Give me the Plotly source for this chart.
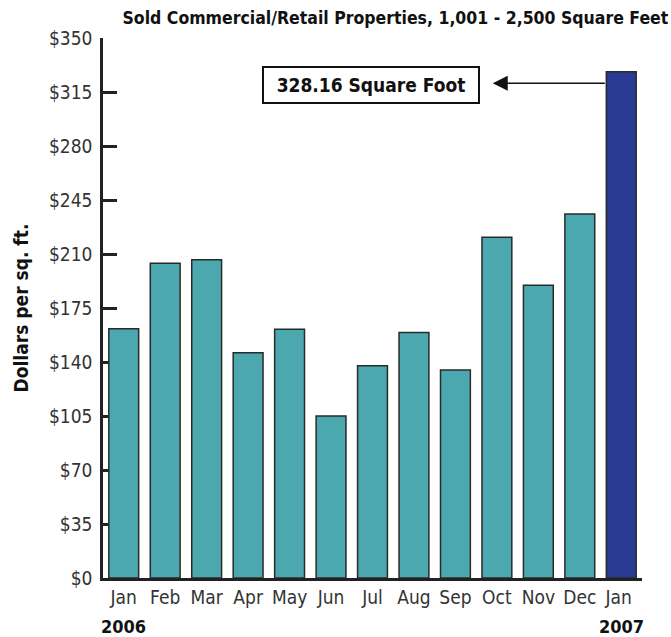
import plotly.graph_objects as go

months = ["Jan", "Feb", "Mar", "Apr", "May", "Jun", "Jul", "Aug", "Sep", "Oct", "Nov", "Dec", "Jan "]
values = [161.6, 204.0, 206.3, 146.0, 161.2, 105.0, 137.6, 159.2, 134.8, 220.8, 189.7, 235.9, 328.16]
bar_colors = ["#4BA8AE"] * 12 + ["#283A91"]
tick_vals = [0, 35, 70, 105, 140, 175, 210, 245, 280, 315, 350]
tick_text = ["$" + str(v) for v in tick_vals]
year_labels = {0: "2006", 12: "2007"}
callout_text = "328.16 Square Foot"

FONT = "DejaVu Sans Condensed, Liberation Sans Narrow, sans-serif"
bargap = 0.28

fig = go.Figure()
fig.add_trace(go.Bar(
    x=list(range(len(months))), y=values,
    marker=dict(color=bar_colors, line=dict(color="#2a2a2a", width=1.5)),
    width=1 - bargap,
    hoverinfo="skip",
))

annotations = []
for idx, label in year_labels.items():
    annotations.append(dict(x=idx, y=-0.089, xref="x", yref="paper", text="<b>" + label + "</b>",
                            showarrow=False, font=dict(family=FONT, size=18, color="#111"),
                            xanchor="center", yanchor="middle"))

last = len(values) - 1
arrow_y = values[last] - 7.5
annotations.append(dict(
    x=8.9, y=arrow_y, xref="x", yref="y",
    ax=last - (1 - bargap) / 2, ay=arrow_y, axref="x", ayref="y",
    text="", showarrow=True, arrowhead=2, arrowsize=2, arrowwidth=1.5, arrowcolor="#111",
))
annotations.append(dict(
    x=5.96, y=arrow_y - 1, xref="x", yref="y",
    text="<b>" + callout_text + "</b>", showarrow=False,
    font=dict(family=FONT, size=19, color="#111"),
    bordercolor="#111", borderwidth=2, borderpad=2, bgcolor="white",
    width=210, height=30, xanchor="center", yanchor="middle",
))

fig.update_layout(
    width=671, height=637,
    margin=dict(l=103, r=29, t=38, b=59),
    paper_bgcolor="white", plot_bgcolor="white",
    bargap=bargap,
    showlegend=False,
    title=dict(text="<b>Sold Commercial/Retail Properties, 1,001 - 2,500 Square Feet</b>",
               x=0.996, xanchor="right", y=0.972, yanchor="middle",
               font=dict(family=FONT, size=17.5, color="#111")),
    annotations=annotations,
    xaxis=dict(
        range=[-0.5, len(months) - 0.5],
        tickmode="array", tickvals=list(range(len(months))), ticktext=months,
        showline=True, linecolor="#222", linewidth=2.5,
        ticks="", showgrid=False, zeroline=False,
        tickfont=dict(family=FONT, size=19, color="#333"),
        layer="below traces",
    ),
    yaxis=dict(
        range=[0, 350],
        tickmode="array", tickvals=tick_vals, ticktext=tick_text,
        showline=True, linecolor="#222", linewidth=2.5,
        ticks="inside", ticklen=14, tickwidth=2.5, tickcolor="#222",
        ticklabelstandoff=4,
        showgrid=False, zeroline=False,
        tickfont=dict(family=FONT, size=19, color="#333"),
        title=dict(text="<b>Dollars per sq. ft.</b>", font=dict(family=FONT, size=19, color="#111"), standoff=16),
        layer="below traces",
    ),
)

fig.write_html("out.html", config={"displayModeBar": False},
               post_script="document.body.style.margin='0';document.body.style.overflow='hidden';")
